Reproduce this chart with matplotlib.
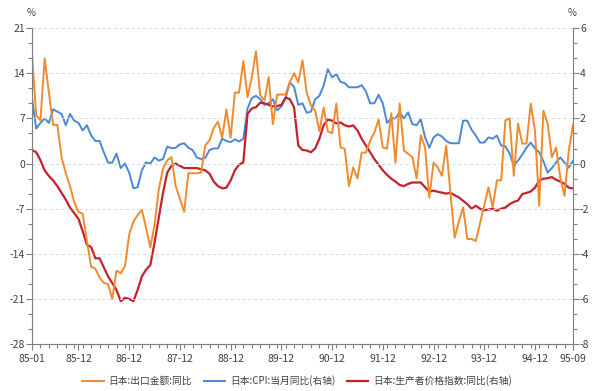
import numpy as np
import pandas as pd
import matplotlib
matplotlib.use("Agg")
import matplotlib.pyplot as plt

plt.rcParams['font.family'] = ['Noto Sans CJK SC', 'DejaVu Sans']
plt.rcParams['axes.unicode_minus'] = False

# monthly, 1985-01 .. 1995-09
months = pd.period_range("1985-01", "1995-09", freq="M")

export_yoy = [17, 7.5, 6.7, 16.3, 11, 6, 6, 1, -1.5, -3.5,
              -6, -7.5, -7.8, -12, -16, -16.3, -17.7, -18.5, -18.7, -21,
              -16.6, -17, -15.9, -11, -9, -8, -7.2, -10, -13, -9.5,
              -4, -0.8, 0.5, 1, -3.5, -5.5, -7.5, -1.5, -1.5, -1.5,
              -1.4, 2.8, 3.6, 5.5, 6.5, 4.0, 8.4, 4.0, 11, 11,
              15.9, 10.3, 13.4, 17.4, 10.6, 9.8, 13.4, 6.1, 10.7, 10.7,
              10.7, 12.6, 14, 12.6, 16, 11, 9, 8.2, 5, 8.7,
              5, 4.7, 9.3, 2.5, 2.3, -3.5, -0.6, -2.3, 1.7, 1.7,
              3.5, 4.8, 6.8, 2.5, 2.3, 7.8, 0.15, 9.3, 2, 1.5,
              1, -2.3, 4.4, 2.5, -5.3, 0.15, -0.6, -1.9, 2.8, -4.5,
              -11.5, -9, -6.8, -11.7, -11.7, -12, -9.3, -6.5, -3.7, -6.8,
              -2.6, -2.6, 6.7, 7.0, -1.9, 6.2, 3.1, 3.1, 9.3, 5.1,
              -6.5, 8.2, 6.2, 1.0, 2.5, -2.2, -5.0, 2.0, 6.0]

cpi_yoy = [2.9, 1.55, 1.8, 2.0, 1.8, 2.4, 2.3, 2.2, 1.7, 2.2,
           1.9, 1.8, 1.47, 1.7, 1.24, 1.0, 1.0, 0.5, 0.04, 0.04,
           0.44, -0.2, 0, -0.4, -1.1, -1.05, -0.3, 0.05, 0.0, 0.27,
           0.13, 0.2, 0.75, 0.68, 0.7, 0.85, 0.9, 0.7, 0.6, 0.27,
           0.2, 0.25, 0.6, 0.67, 0.67, 1.1, 1.0, 0.95, 1.07, 0.98,
           1.1, 2.44, 2.9, 3.0, 2.85, 2.6, 2.67, 2.85, 2.36, 2.53,
           2.9, 3.6, 3.4, 2.6, 2.67, 2.25, 2.3, 2.85, 3.0, 3.45,
           4.18, 3.82, 3.96, 3.62, 3.56, 3.38, 3.38, 3.38, 3.47, 3.2,
           2.67, 2.67, 3.05, 2.67, 1.8, 2.0, 2.0, 2.27, 2.0, 2.27,
           1.75, 1.7, 1.96, 1.16, 0.7, 1.16, 1.3, 1.2, 1.0, 0.9,
           0.9, 0.9, 1.9, 1.9, 1.5, 1.24, 0.93, 0.93, 1.16, 1.1,
           1.24, 0.8, 0.76, 0.45, -0.09, 0.13, 0.4, 0.7, 0.93, 0.67,
           0.5, 0.1, -0.4, -0.2, 0.05, 0.27, 0.04, -0.18, 0.13]

ppi_yoy = [0.6, 0.5, 0.15, -0.3, -0.55, -0.75, -1.0, -1.3, -1.6, -1.95,
           -2.2, -2.45, -3.0, -3.6, -3.7, -4.2, -4.2, -4.6, -5.0, -5.3,
           -5.6, -6.1, -5.95, -6.0, -6.1, -5.6, -5.0, -4.7, -4.5, -3.5,
           -2.4, -1.3, -0.4, -0.1, 0.0, -0.1, -0.2, -0.2, -0.2, -0.2,
           -0.25, -0.3, -0.45, -0.8, -1.0, -1.1, -1.07, -0.75, -0.3, -0.05,
           0.05, 2.2, 2.44, 2.5, 2.7, 2.67, 2.6, 2.53, 2.55, 2.6,
           2.93, 2.85, 2.5, 0.8, 0.6, 0.58, 0.5, 0.67, 1.1, 1.7,
           1.95, 1.9, 1.78, 1.82, 1.7, 1.64, 1.69, 1.47, 1.1, 0.8,
           0.5, 0.2, -0.05, -0.3, -0.5, -0.67, -0.8, -0.95, -1.0, -0.9,
           -0.84, -0.84, -0.84, -1.05, -1.24, -1.2, -1.25, -1.29, -1.33, -1.3,
           -1.4, -1.5, -1.65, -1.8, -2.0, -1.87, -2.0, -2.07, -2.04, -2.0,
           -2.09, -2.0, -1.95, -1.8, -1.7, -1.64, -1.35, -1.3, -1.24, -1.07,
           -0.75, -0.67, -0.65, -0.6, -0.72, -0.8, -0.9, -1.07, -1.1]

tick_labels = ["85-01", "85-12", "86-12", "87-12", "88-12", "89-12",
               "90-12", "91-12", "92-12", "93-12", "94-12", "95-09"]

labels = ["日本:出口金额:同比", "日本:CPI:当月同比(右轴)", "日本:生产者价格指数:同比(右轴)"]
colors = ["#F08A2C", "#4A88D6", "#C4222A"]

x = np.arange(len(months))
month_str = [p.strftime("%y-%m") for p in months]
tick_pos = [month_str.index(t) for t in tick_labels]

fig = plt.figure(figsize=(6, 3.91), dpi=100)
ax = fig.add_axes([0.0533, 0.12, 0.9017, 0.808])
ax2 = ax.twinx()

l1, = ax.plot(x, export_yoy, color=colors[0], lw=1.4)
l2, = ax2.plot(x, cpi_yoy, color=colors[1], lw=1.4)
l3, = ax2.plot(x, ppi_yoy, color=colors[2], lw=1.6)
ax.set_zorder(ax2.get_zorder() + 1)
ax.patch.set_visible(False)

ax.set_yticks(np.arange(-28, 22, 7))
ax.set_yticks(np.arange(-28, 21.5, 7 / 3), minor=True)
ax2.set_yticks(np.arange(-8, 7, 2))
ax2.set_yticks(np.arange(-8, 6.5, 2 / 3), minor=True)
ax.set_xticks(tick_pos)
ax.set_xticklabels(tick_labels)
ax.set_xticks(np.arange(0, len(x), 2), minor=True)
ax.set_xlim(0, len(x) - 1)
ax.set_ylim(-28, 21)
ax2.set_ylim(-8, 6)

for v in np.arange(-21, 22, 7):
    ax.axhline(v, color="#d9d9d9", lw=0.7, ls=(0, (3, 3)), zorder=0)

gray = "#7f7f7f"
for a in (ax, ax2):
    for s in a.spines.values():
        s.set_visible(False)
    a.tick_params(which="both", colors=gray, labelcolor="#404040", labelsize=7.5, width=0.8)
    a.tick_params(which="major", length=4)
    a.tick_params(which="minor", length=3)
ax.spines["left"].set_visible(True)
ax.spines["left"].set_color(gray)
ax.spines["bottom"].set_visible(True)
ax.spines["bottom"].set_color(gray)
ax2.spines["right"].set_visible(True)
ax2.spines["right"].set_color(gray)
ax.tick_params(axis="y", pad=1)
ax2.tick_params(axis="y", pad=1)

fig.text(0.052, 0.968, "%", fontsize=7, color="#404040", ha="center", va="center")
fig.text(0.953, 0.968, "%", fontsize=7, color="#404040", ha="center", va="center")

fig.legend([l1, l2, l3], labels, loc="center", bbox_to_anchor=(0.495, 0.026),
           ncol=3, frameon=False, fontsize=7, handlelength=2.2, columnspacing=1.2,
           handletextpad=0.5, labelcolor="#404040")

fig.savefig("out.png", dpi=100)
